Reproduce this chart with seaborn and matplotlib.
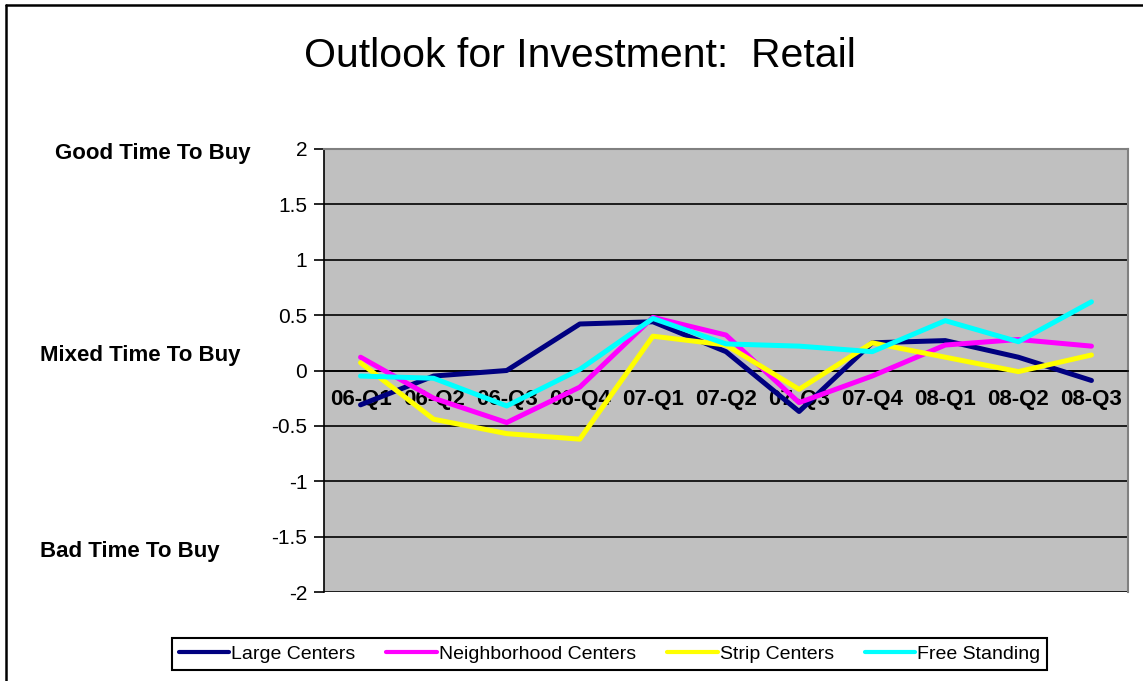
import matplotlib
matplotlib.use('Agg')
import matplotlib.pyplot as plt
from matplotlib.lines import Line2D
import seaborn as sns
import pandas as pd

quarters = ["06-Q1", "06-Q2", "06-Q3", "06-Q4", "07-Q1", "07-Q2",
            "07-Q3", "07-Q4", "08-Q1", "08-Q2", "08-Q3"]
large_centers = [-0.31, -0.05, 0.0, 0.42, 0.44, 0.17, -0.37, 0.25, 0.27, 0.12, -0.09]
neighborhood_centers = [0.12, -0.25, -0.47, -0.15, 0.48, 0.32, -0.29, -0.05, 0.23, 0.28, 0.22]
strip_centers = [0.07, -0.44, -0.57, -0.62, 0.31, 0.23, -0.17, 0.25, 0.12, -0.01, 0.14]
free_standing = [-0.05, -0.07, -0.32, 0.01, 0.47, 0.24, 0.22, 0.17, 0.45, 0.26, 0.62]

series = {
    "Large Centers": large_centers,
    "Neighborhood Centers": neighborhood_centers,
    "Strip Centers": strip_centers,
    "Free Standing": free_standing,
}
colors = ["#000080", "#FF00FF", "#FFFF00", "#00FFFF"]

rows = []
for name, vals in series.items():
    for i, v in enumerate(vals):
        rows.append({"pos": i, "quarter": quarters[i], "series": name, "value": v})
df = pd.DataFrame(rows)

sns.set_style("white")
plt.rcParams['font.family'] = ['Liberation Sans', 'DejaVu Sans']
plt.rcParams['text.color'] = 'black'
plt.rcParams['xtick.color'] = 'black'
plt.rcParams['ytick.color'] = 'black'

W, H = 1143, 681
fig = plt.figure(figsize=(W / 100, H / 100), dpi=100)
ax = fig.add_axes([324 / W, 1 - 592 / H, (1128 - 324) / W, (592 - 149) / H])
ax.set_facecolor("#C0C0C0")

sns.lineplot(data=df, x="pos", y="value", hue="series", palette=colors,
             linewidth=3.6, sort=False, ax=ax)
for line in ax.lines:
    line.set_zorder(3)

# category axis sits on the zero line (set before ticks: this resets them)
ax.spines["bottom"].set_position(("data", 0))
ax.spines["bottom"].set_color("black")
ax.spines["bottom"].set_linewidth(1.2)
ax.spines["left"].set_color("black")
ax.spines["left"].set_linewidth(1.2)
for s in ["top", "right"]:
    ax.spines[s].set_color("#808080")
    ax.spines[s].set_linewidth(1.5)

ax.set_xlim(-0.5, len(quarters) - 0.5)
ax.set_ylim(-2, 2)
ax.set_yticks([-2, -1.5, -1, -0.5, 0, 0.5, 1, 1.5, 2])
ax.set_yticklabels(["-2", "-1.5", "-1", "-0.5", "0", "0.5", "1", "1.5", "2"])
ax.yaxis.grid(True, color="black", linewidth=1.2)
ax.set_axisbelow(True)

# boundaries get the tick marks, labels sit in the middle of each category
ax.set_xticks([i + 0.5 for i in range(len(quarters) - 1)])
ax.set_xticklabels([])
ax.set_xticks(range(len(quarters)), minor=True)
ax.set_xticklabels(quarters, minor=True, fontsize=16, fontweight="bold")
ax.tick_params(axis="x", which="major", direction="out", length=6, width=1.2, color="black")
ax.tick_params(axis="x", which="minor", length=0, pad=13)
ax.tick_params(axis="y", direction="out", length=7, width=1.2, color="black",
               labelsize=15, pad=5, left=True)
ax.set_xlabel("")
ax.set_ylabel("")

handles, labels = ax.get_legend_handles_labels()
ax.get_legend().remove()
leg = fig.legend(handles, labels, loc="center", ncol=4,
                 bbox_to_anchor=(609.5 / W, 1 - 654 / H),
                 fontsize=14, handlelength=2.6, handletextpad=0.1,
                 columnspacing=1.6, fancybox=False, framealpha=1,
                 borderpad=0.35)
leg.get_frame().set_edgecolor("black")
leg.get_frame().set_linewidth(1.5)
for line in leg.get_lines():
    line.set_linewidth(3)

fig.text(580 / W, 1 - 56 / H, "Outlook for Investment:  Retail",
         fontsize=29.5, ha="center", va="center")

fig.text(55 / W, 1 - 153 / H, "Good Time To Buy", fontsize=16,
         fontweight="bold", ha="left", va="center")
fig.text(40 / W, 1 - 355 / H, "Mixed Time To Buy", fontsize=16,
         fontweight="bold", ha="left", va="center")
fig.text(40 / W, 1 - 551 / H, "Bad Time To Buy", fontsize=16,
         fontweight="bold", ha="left", va="center")

# outer chart border (left and top edges visible)
fig.add_artist(Line2D([6 / W, 6 / W], [0, 1 - 5 / H], transform=fig.transFigure,
                      color="black", linewidth=1.8))
fig.add_artist(Line2D([6 / W, 1], [1 - 5 / H, 1 - 5 / H], transform=fig.transFigure,
                      color="black", linewidth=1.8))

fig.savefig("out.png", dpi=100)
plt.close()
